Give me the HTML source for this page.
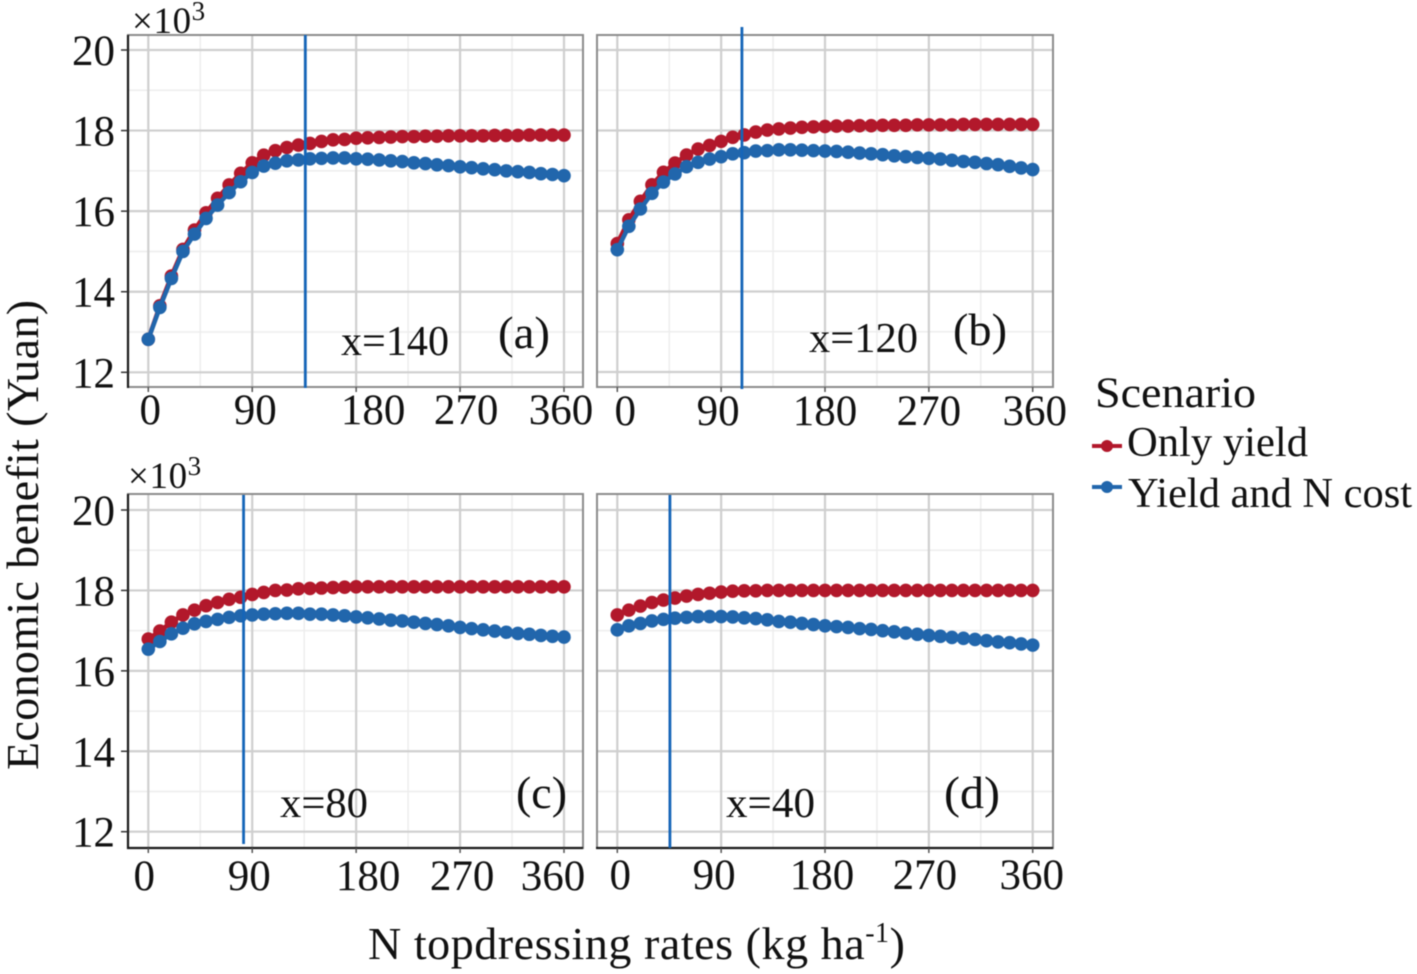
<!DOCTYPE html>
<html lang="en">
<head>
<meta charset="utf-8">
<title>Economic benefit by N topdressing rate</title>
<style>
html,body{margin:0;padding:0;background:#fff;}
svg{display:block;filter:blur(0.5px);}
text{font-family:"Liberation Serif",serif;fill:#111;}
</style>
</head>
<body>
<svg id="chart" xmlns="http://www.w3.org/2000/svg" width="1417" height="974" viewBox="0 0 1417 974">
  <rect x="0" y="0" width="1417" height="974" fill="#ffffff"/>
  <g id="panels"></g>
  <text transform="translate(38,770) rotate(-90)" font-size="46" letter-spacing="0.35">Economic benefit (Yuan)</text>
  <text x="368" y="959" font-size="46" letter-spacing="0.55">N topdressing rates (kg ha<tspan font-size="28" dy="-17">-1</tspan><tspan dy="17">)</tspan></text>
  <g>
    <text x="1095" y="407" font-size="43" textLength="161" lengthAdjust="spacingAndGlyphs">Scenario</text>
    <g>
      <line x1="1092" y1="446" x2="1122" y2="446" stroke="#B2182B" stroke-width="4"/>
      <circle cx="1107" cy="446" r="6" fill="#B2182B"/>
      <text x="1127" y="456" font-size="42.5" textLength="181" lengthAdjust="spacingAndGlyphs">Only yield</text>
    </g>
    <g>
      <line x1="1092" y1="487" x2="1122" y2="487" stroke="#2166AC" stroke-width="4"/>
      <circle cx="1107" cy="487" r="6" fill="#2166AC"/>
      <text x="1128" y="507" font-size="42" textLength="284" lengthAdjust="spacingAndGlyphs">Yield and N cost</text>
    </g>
  </g>
</svg>
<script>
// ---- Data ----
const nRates = [0,10,20,30,40,50,60,70,80,90,100,110,120,130,140,150,160,170,180,190,200,210,220,230,240,250,260,270,280,290,300,310,320,330,340,350,360];
const xTickValues = [0,90,180,270,360];
const xMinorValues = [45,135,225,315];
const yTickValues = [20,18,16,14,12];
const yMinorValues = [19,17,15,13];

const onlyYieldA = [12.82,13.65,14.39,15.05,15.53,15.96,16.32,16.65,16.94,17.2,17.39,17.5,17.58,17.64,17.68,17.73,17.77,17.78,17.81,17.82,17.83,17.84,17.85,17.85,17.86,17.86,17.87,17.87,17.87,17.87,17.88,17.88,17.88,17.89,17.89,17.89,17.89];
const yieldCostA = [12.82,13.61,14.33,15.0,15.43,15.82,16.15,16.46,16.73,16.96,17.12,17.19,17.25,17.27,17.3,17.31,17.32,17.32,17.3,17.29,17.27,17.25,17.23,17.2,17.18,17.15,17.13,17.1,17.08,17.05,17.03,17.0,16.98,16.96,16.93,16.91,16.88];
const onlyYieldB = [15.19,15.78,16.24,16.65,16.96,17.19,17.39,17.54,17.63,17.73,17.83,17.89,17.96,18.01,18.04,18.06,18.08,18.09,18.1,18.11,18.11,18.12,18.12,18.13,18.13,18.13,18.14,18.14,18.14,18.14,18.15,18.15,18.15,18.15,18.15,18.15,18.15];
const yieldCostB = [15.04,15.62,16.05,16.44,16.72,16.92,17.1,17.21,17.29,17.35,17.42,17.45,17.49,17.5,17.52,17.52,17.51,17.5,17.49,17.48,17.46,17.44,17.42,17.4,17.37,17.35,17.33,17.31,17.29,17.26,17.23,17.21,17.18,17.15,17.11,17.07,17.03];
const onlyYieldC = [16.79,16.99,17.21,17.39,17.51,17.62,17.7,17.78,17.83,17.9,17.95,18.0,18.01,18.04,18.05,18.06,18.07,18.08,18.09,18.09,18.09,18.09,18.09,18.09,18.09,18.09,18.09,18.09,18.09,18.09,18.09,18.09,18.09,18.09,18.09,18.09,18.09];
const yieldCostC = [16.54,16.73,16.92,17.06,17.17,17.23,17.28,17.33,17.37,17.39,17.41,17.42,17.43,17.43,17.41,17.41,17.39,17.37,17.34,17.32,17.29,17.26,17.24,17.21,17.18,17.15,17.12,17.08,17.05,17.02,16.99,16.96,16.93,16.91,16.88,16.86,16.84];
const onlyYieldD = [17.39,17.51,17.61,17.7,17.76,17.81,17.86,17.9,17.93,17.96,17.98,17.99,17.99,18.0,18.0,18.0,18.0,18.0,18.0,18.0,18.0,18.0,18.0,18.0,18.0,18.0,18.0,18.0,18.0,18.0,18.0,18.0,18.0,18.0,18.0,18.0,18.0];
const yieldCostD = [17.02,17.12,17.18,17.24,17.28,17.31,17.33,17.35,17.35,17.35,17.34,17.32,17.3,17.27,17.23,17.21,17.18,17.15,17.12,17.1,17.08,17.05,17.03,17.0,16.97,16.94,16.91,16.88,16.86,16.83,16.81,16.78,16.75,16.72,16.7,16.67,16.64];

const panelIds = ['a','b','c','d'];
const onlyYieldSeries = [onlyYieldA,onlyYieldB,onlyYieldC,onlyYieldD];
const yieldCostSeries = [yieldCostA,yieldCostB,yieldCostC,yieldCostD];
const optimumRates = [136,108,82.5,45.6];
const optimumLabels = ['x=140','x=120','x=80','x=40'];
const panelLabels = ['(a)','(b)','(c)','(d)'];

// ---- Layout (pixels, independent of the data) ----
const RED = '#B2182B', BLUE = '#2166AC', VLINE = '#1565B8';
const NS = 'http://www.w3.org/2000/svg';
const frames = {
  a:{l:128,r:583,t:35,b:387,x0:148.3,x360:564,y20:50,y12:372.3,dark:['left'],showY:true,vt:35,vb:388,
     nudge:[2,3,17,6,-3],xb:424,noteX:341,noteY:355,noteW:108,tagX:498,tagY:348,tagW:52,mulX:132,mulY:33},
  b:{l:597,r:1053,t:35,b:387,x0:617.3,x360:1032.7,y20:50,y12:372,dark:[],showY:false,vt:27,vb:389,
     nudge:[8,-3,0,0,2],xb:425,noteX:809,noteY:352,noteW:109,tagX:953,tagY:345,tagW:54},
  c:{l:128,r:583,t:494,b:848,x0:148.3,x360:564,y20:510,y12:831.7,dark:['left','bottom'],showY:true,vt:495,vb:844,
     nudge:[-4,-3,12,2,-11],xb:890,noteX:280,noteY:817,noteW:88,tagX:516,tagY:808,tagW:51,mulX:128,mulY:488},
  d:{l:597,r:1053,t:494,b:848,x0:617.3,x360:1032.7,y20:510,y12:831.7,dark:['bottom'],showY:false,vt:495,vb:848,
     nudge:[3,-7,-3,-4,-1],xb:889,noteX:726,noteY:817,noteW:89,tagX:944,tagY:808,tagW:56}
};

function mk(tag,parent){const e=document.createElementNS(NS,tag);parent.appendChild(e);return e;}
function set(e,o){for(const k in o)e.setAttribute(k,o[k]);return e;}

const root = document.getElementById('panels');

panelIds.forEach(function(id,pi){
  const f = frames[id];
  const xs = function(v){return f.x0+v*(f.x360-f.x0)/360;};
  const ys = function(v){return f.y20+(20-v)*(f.y12-f.y20)/8;};

  const g = mk('g',root);
  
  

  // minor grid
  xMinorValues.forEach(function(v){
    const ln = set(mk('line',g),{x1:xs(v),x2:xs(v),y1:f.t,y2:f.b,stroke:'#ededed','stroke-width':1.5});
    
    
  });
  yMinorValues.forEach(function(v){
    const ln = set(mk('line',g),{x1:f.l,x2:f.r,y1:ys(v),y2:ys(v),stroke:'#ededed','stroke-width':1.5});
    
    
  });
  // major grid
  xTickValues.forEach(function(v){
    const ln = set(mk('line',g),{x1:xs(v),x2:xs(v),y1:f.t,y2:f.b,stroke:'#cfcfcf','stroke-width':2.2});
    
    
  });
  yTickValues.forEach(function(v){
    const ln = set(mk('line',g),{x1:f.l,x2:f.r,y1:ys(v),y2:ys(v),stroke:'#cfcfcf','stroke-width':2.2});
    
    
  });

  // panel border
  const border = set(mk('rect',g),{x:f.l,y:f.t,width:f.r-f.l,height:f.b-f.t,fill:'none',stroke:'#8c8c8c','stroke-width':2});
  
  

  if(f.dark.indexOf('left')>=0){
    const ax = set(mk('line',g),{x1:f.l,x2:f.l,y1:f.t,y2:f.b+1,stroke:'#1a1a1a','stroke-width':2.2});
    
    
  }
  if(f.dark.indexOf('bottom')>=0){
    const ax = set(mk('line',g),{x1:f.l-1,x2:f.r,y1:f.b,y2:f.b,stroke:'#1a1a1a','stroke-width':2.2});
    
    
  }

  // x ticks and labels
  xTickValues.forEach(function(v,i){
    const t = set(mk('line',g),{x1:xs(v),x2:xs(v),y1:f.b,y2:f.b+5,stroke:'#555','stroke-width':1.5});
    
    
    const lb = set(mk('text',g),{x:xs(v)+f.nudge[i],y:f.xb,'text-anchor':'middle','font-size':43});
    lb.textContent = String(v);
    
    
  });

  // y ticks and labels
  if(f.showY){
    yTickValues.forEach(function(v){
      const t = set(mk('line',g),{x1:f.l-7,x2:f.l,y1:ys(v),y2:ys(v),stroke:'#333','stroke-width':1.5});
      
      
      const lb = set(mk('text',g),{x:115,y:ys(v)+15,'text-anchor':'end','font-size':43});
      lb.textContent = String(v);
      
      
    });
    const mul = set(mk('text',g),{x:f.mulX,y:f.mulY,'font-size':37,'letter-spacing':'0.6'});
    
    
    mul.appendChild(document.createTextNode('×10'));
    const sup = set(mk('tspan',mul),{'font-size':27,dy:-13});
    sup.textContent = '3';
  }

  // series
  function drawSeries(vals,color,name){
    const s = mk('g',g);
    
    
    const pts = nRates.map(function(r,i){return xs(r)+','+ys(vals[i]);}).join(' ');
    const pl = set(mk('polyline',s),{points:pts,fill:'none',stroke:color,'stroke-width':4.5,'stroke-linejoin':'round'});
    
    
    nRates.forEach(function(r,i){
      const c = set(mk('circle',s),{cx:xs(r),cy:ys(vals[i]),r:6.8,fill:color});
      
      
    });
  }
  drawSeries(onlyYieldSeries[pi],RED,'only-yield');
  drawSeries(yieldCostSeries[pi],BLUE,'yield-and-n-cost');

  // optimum marker
  const vl = set(mk('line',g),{x1:xs(optimumRates[pi]),x2:xs(optimumRates[pi]),y1:f.vt,y2:f.vb,stroke:VLINE,'stroke-width':2.8});
  
  

  const note = set(mk('text',g),{x:f.noteX,y:f.noteY,'font-size':42,textLength:f.noteW,lengthAdjust:'spacingAndGlyphs'});
  note.textContent = optimumLabels[pi];
  
  

  const tag = set(mk('text',g),{x:f.tagX,y:f.tagY,'font-size':46,textLength:f.tagW,lengthAdjust:'spacingAndGlyphs'});
  tag.textContent = panelLabels[pi];
  
  
});
</script>
</body>
</html>
